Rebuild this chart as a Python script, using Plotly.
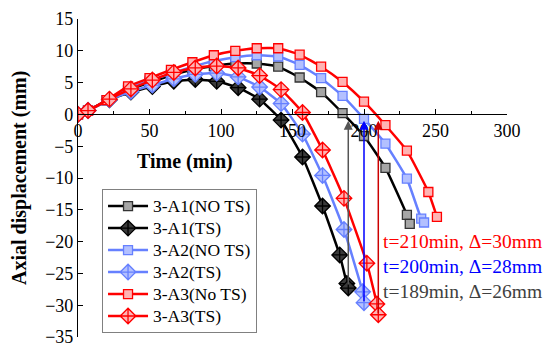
import plotly.graph_objects as go

# ---- data ----
t_a1_nots = [0, 7, 20, 35, 50, 65, 80, 95, 110, 125, 140, 155, 170, 185, 200, 215, 230, 232]
d_a1_nots = [0, 0.6, 2.2, 3.8, 5.0, 6.1, 7.0, 7.6, 8.0, 8.0, 7.5, 5.8, 3.5, 0.2, -3.4, -8.4, -15.8, -17.2]

t_a1_ts = [0, 7, 22, 37, 52, 67, 82, 97, 112, 127, 142, 157, 171, 183, 188, 189]
d_a1_ts = [0, 0.6, 2.3, 3.5, 4.4, 5.2, 5.5, 5.2, 4.2, 2.4, -0.9, -6.7, -14.4, -22.1, -26.6, -27.3]

t_a2_nots = [0, 7, 20, 35, 50, 65, 80, 95, 110, 125, 140, 155, 170, 185, 200, 215, 230, 240, 242]
d_a2_nots = [0, 0.6, 2.2, 4.1, 5.3, 6.4, 7.5, 8.4, 9.0, 9.3, 9.1, 7.8, 5.7, 2.9, -0.7, -4.6, -10.1, -16.4, -17.0]

t_a2_ts = [0, 7, 22, 37, 52, 67, 82, 97, 112, 127, 142, 157, 171, 186, 199, 200]
d_a2_ts = [0, 0.6, 2.3, 3.6, 4.6, 5.6, 6.3, 6.5, 5.9, 4.3, 1.7, -3.1, -9.6, -18.1, -27.9, -29.6]

t_a3_nots = [0, 7, 20, 35, 50, 65, 80, 95, 110, 125, 140, 155, 170, 185, 200, 215, 230, 245, 251]
d_a3_nots = [0, 0.6, 2.25, 4.4, 5.7, 7.0, 8.2, 9.3, 10.0, 10.4, 10.4, 9.4, 7.5, 5.1, 2.0, -1.7, -5.7, -12.2, -16.1]

t_a3_ts = [0, 7, 22, 37, 52, 67, 82, 97, 112, 127, 142, 157, 171, 186, 202, 209, 210]
d_a3_ts = [0, 0.6, 2.4, 4.0, 5.4, 6.6, 7.3, 7.6, 7.3, 6.1, 3.9, 0.3, -5.6, -13.2, -23.4, -29.8, -31.5]

fail_t = [210, 200, 189]
fail_d = [-31.5, -29.6, -27.0]
fail_text = ["t=210min, \u0394=30mm", "t=200min, \u0394=28mm", "t=189min, \u0394=26mm"]

x_ticks = [0, 50, 100, 150, 200, 250, 300]
y_ticks = [15, 10, 5, 0, -5, -10, -15, -20, -25, -30, -35]

FONT = "Liberation Serif, Times New Roman, serif"

series = [
    ("3-A1(NO TS)", t_a1_nots, d_a1_nots, "#000000", "square", "#a6a6a6", "#333333", 9),
    ("3-A1(TS)", t_a1_ts, d_a1_ts, "#000000", "diamond-cross", "#3a3a3a", "#000000", 12),
    ("3-A2(NO TS)", t_a2_nots, d_a2_nots, "#6680ff", "square", "#b3c0ff", "#6680ff", 9),
    ("3-A2(TS)", t_a2_ts, d_a2_ts, "#6680ff", "diamond-cross", "#b3c0ff", "#6680ff", 12),
    ("3-A3(No TS)", t_a3_nots, d_a3_nots, "#ff0000", "square", "#ffb3b3", "#ff0000", 9),
    ("3-A3(TS)", t_a3_ts, d_a3_ts, "#ff0000", "diamond-cross", "#ffb3b3", "#ff0000", 12),
]

fig = go.Figure()
for name, t, d, lc, sym, fc, ec, ms in series:
    fig.add_trace(go.Scatter(
        x=t, y=d, mode="lines+markers",
        name='<span style="font-size:17.5px">' + name + '</span>',
        line=dict(color=lc, width=2.5, shape="spline", smoothing=0.4),
        marker=dict(symbol=sym, size=ms, color=fc, line=dict(color=ec, width=1.3)),
    ))

arrow_cols = ["#cc0000", "#0000ff", "#555555"]
text_cols = ["#ff0000", "#0000ff", "#404040"]
for i in range(3):
    fig.add_annotation(x=fail_t[i], y=-1, ax=fail_t[i], ay=fail_d[i],
                       xref="x", yref="y", axref="x", ayref="y",
                       text="", showarrow=True, arrowhead=2, arrowsize=1.2,
                       arrowwidth=1.5, arrowcolor=arrow_cols[i], standoff=0)
    fig.add_annotation(x=212, y=-20.0 - 3.9 * i, xref="x", yref="y",
                       text=fail_text[i], showarrow=False, xanchor="left",
                       yanchor="middle",
                       font=dict(family=FONT, size=19.5, color=text_cols[i]))

fig.add_annotation(x=75, y=-7.4, xref="x", yref="y", text="<b>Time (min)</b>",
                   showarrow=False, xanchor="center",
                   font=dict(family=FONT, size=20, color="black"))
fig.add_annotation(x=0, y=0.5, xref="paper", yref="paper", xshift=-59,
                   xanchor="center", yanchor="middle",
                   text="<b>Axial displacement (mm)</b>", textangle=-90,
                   showarrow=False, font=dict(family=FONT, size=20, color="black"))

fig.update_layout(
    width=550, height=353,
    margin=dict(l=78, r=43, t=19, b=16, autoexpand=False),
    paper_bgcolor="white", plot_bgcolor="white",
    font=dict(family=FONT, size=18, color="black"),
    showlegend=True,
    legend=dict(x=0.056, y=0.465, xanchor="left", yanchor="top",
                bordercolor="#808080", borderwidth=1, bgcolor="white",
                font=dict(family=FONT, size=14.6), itemwidth=40,
                tracegroupgap=0),
    xaxis=dict(range=[0, 300], tickvals=x_ticks, ticks="inside", ticklen=5,
               tickcolor="black", showline=True, linecolor="black", linewidth=1.2,
               showgrid=False, zeroline=False, anchor="free", position=0.7,
               minor=dict(dtick=25, ticks="inside", ticklen=3, tickcolor="black"),
               tickfont=dict(family=FONT, size=18)),
    yaxis=dict(range=[-35, 15], tickvals=y_ticks, ticks="inside", ticklen=5,
               tickcolor="black", showline=True, linecolor="black", linewidth=1.2,
               showgrid=False, zeroline=False,
               tickfont=dict(family=FONT, size=18)),
)

fig.write_html("out.html", config={"displayModeBar": False},
               post_script="document.body.style.margin='0px';document.body.style.overflow='hidden';")
